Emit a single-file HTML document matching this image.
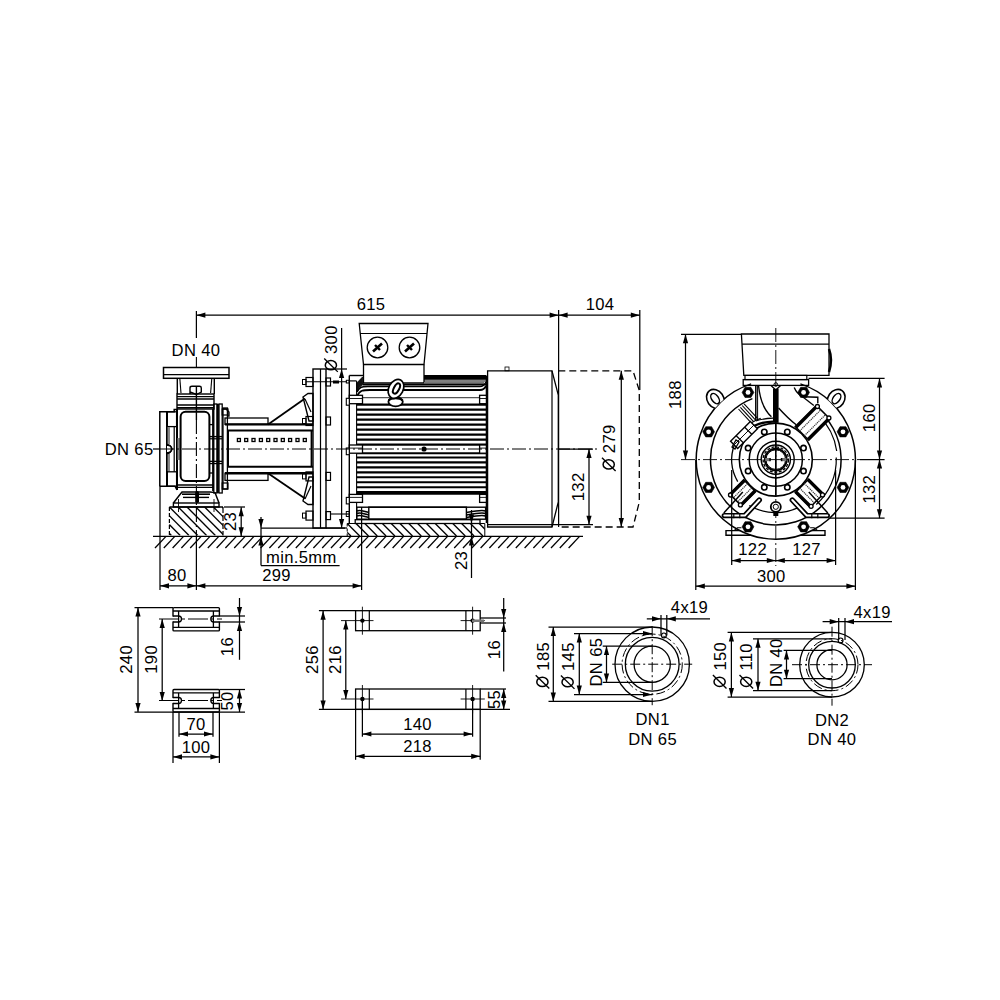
<!DOCTYPE html>
<html><head><meta charset="utf-8"><style>
html,body{margin:0;padding:0;background:#fff;width:1000px;height:1000px;overflow:hidden}
svg{display:block}
text{font-family:"Liberation Sans",sans-serif;fill:#000;stroke:none;font-size:16.6px;letter-spacing:0.35px}
</style></head><body>
<svg width="1000" height="1000" viewBox="0 0 1000 1000" stroke="#000" stroke-linecap="butt" fill="none">
<line x1="196.4" y1="311.0" x2="196.4" y2="338.0" stroke-width="1.25" />
<line x1="196.4" y1="315.2" x2="558.6" y2="315.2" stroke-width="1.25" />
<polygon points="196.4,315.2 205.4,312.6 205.4,317.8" fill="#000" stroke="none"/>
<polygon points="558.6,315.2 549.6,312.6 549.6,317.8" fill="#000" stroke="none"/>
<line x1="558.6" y1="315.2" x2="639.8" y2="315.2" stroke-width="1.25" />
<polygon points="558.6,315.2 567.6,312.6 567.6,317.8" fill="#000" stroke="none"/>
<polygon points="639.8,315.2 630.8,312.6 630.8,317.8" fill="#000" stroke="none"/>
<line x1="558.6" y1="310.0" x2="558.6" y2="527.0" stroke-width="1.25" />
<line x1="639.8" y1="310.0" x2="639.8" y2="390.0" stroke-width="1.25" />
<line x1="153.0" y1="449.0" x2="160.0" y2="449.0" stroke-width="1.25" />
<rect x="163.5" y="367.5" width="65.5" height="10.8" rx="0" stroke-width="1.5" fill="none" />
<line x1="177.3" y1="378.3" x2="177.3" y2="394.0" stroke-width="1.4" />
<line x1="214.3" y1="378.3" x2="214.3" y2="394.0" stroke-width="1.4" />
<line x1="179.8" y1="378.3" x2="181.0" y2="393.0" stroke-width="1.1" />
<line x1="211.8" y1="378.3" x2="210.6" y2="393.0" stroke-width="1.1" />
<line x1="163.4" y1="374.6" x2="229.0" y2="374.6" stroke-width="1.2" />
<path d="M190,394 L190,388 Q190,386.3 192,386.3 L199.5,386.3 Q201.3,386.3 201.3,388 L201.3,392 L196.4,394.5 L190,392" stroke-width="1.4" fill="none" />
<line x1="177.0" y1="396.6" x2="214.0" y2="396.6" stroke-width="1.3" />
<line x1="177.0" y1="399.0" x2="214.0" y2="399.0" stroke-width="1.3" />
<line x1="177.0" y1="405.0" x2="214.0" y2="405.0" stroke-width="1.3" />
<line x1="177.0" y1="407.8" x2="214.0" y2="407.8" stroke-width="1.6" />
<rect x="177.0" y="394.0" width="37.0" height="15.0" rx="0" stroke-width="1.4" fill="none" />
<polyline points="159.8,486.2 159.8,411.8 174.2,411.8 174.2,409.4 177.0,409.4" stroke-width="1.5" fill="none" />
<polyline points="159.8,486.2 175.0,486.2 177.0,490.0" stroke-width="1.5" fill="none" />
<line x1="167.0" y1="411.8" x2="167.0" y2="486.2" stroke-width="2.0" />
<rect x="167.0" y="411.8" width="9.6" height="14.8" rx="0" stroke-width="1.3" fill="none" />
<rect x="167.0" y="471.8" width="9.6" height="14.4" rx="0" stroke-width="1.3" fill="none" />
<line x1="174.2" y1="426.6" x2="174.2" y2="471.8" stroke-width="1.2" />
<rect x="167.5" y="427.0" width="2.5" height="17.0" rx="0" stroke-width="0" fill="#888" />
<rect x="167.5" y="454.0" width="2.5" height="17.0" rx="0" stroke-width="0" fill="#888" />
<path d="M167,444.5 A4.5,4.5 0 0 1 167,453.5" stroke-width="1.5" fill="#fff" />
<path d="M167,445.5 A5,5 0 0 1 172.2,449 A5,5 0 0 1 167,452.5" stroke-width="1.2" fill="none" />
<line x1="177.0" y1="409.0" x2="177.0" y2="490.0" stroke-width="2.0" />
<rect x="177.5" y="438.0" width="2.5" height="22.0" rx="0" stroke-width="0" fill="#888" />
<rect x="180.6" y="411.8" width="28.8" height="69.2" rx="5" stroke-width="2.0" fill="none" />
<line x1="213.0" y1="409.0" x2="213.0" y2="491.0" stroke-width="1.8" />
<line x1="209.4" y1="424.6" x2="213.0" y2="424.6" stroke-width="1.3" />
<line x1="209.4" y1="473.0" x2="213.0" y2="473.0" stroke-width="1.3" />
<rect x="213.8" y="404.0" width="3.2" height="89.0" rx="0" stroke-width="1.3" fill="none" />
<line x1="217.8" y1="404.0" x2="217.8" y2="493.0" stroke-width="2.2" />
<rect x="219.0" y="404.0" width="3.2" height="89.0" rx="0" stroke-width="1.3" fill="none" />
<rect x="223.0" y="408.0" width="4.4" height="81.0" rx="0" stroke-width="1.3" fill="none" />
<polyline points="222.2,409.0 226.0,409.0 229.0,412.0 229.0,416.0 227.4,416.0" stroke-width="1.3" fill="none" />
<line x1="210.0" y1="436.6" x2="222.0" y2="436.6" stroke-width="1.4" />
<line x1="210.0" y1="438.8" x2="222.0" y2="438.8" stroke-width="1.2" />
<line x1="210.0" y1="461.4" x2="222.0" y2="461.4" stroke-width="1.4" />
<line x1="210.0" y1="463.6" x2="222.0" y2="463.6" stroke-width="1.2" />
<rect x="222.2" y="409.0" width="5.8" height="6.0" rx="0" stroke-width="1.2" fill="none" />
<rect x="222.2" y="483.0" width="5.8" height="6.0" rx="0" stroke-width="1.2" fill="none" />
<line x1="177.0" y1="485.0" x2="213.0" y2="485.0" stroke-width="1.3" />
<line x1="177.0" y1="487.4" x2="213.0" y2="487.4" stroke-width="1.3" />
<line x1="182.0" y1="494.2" x2="210.0" y2="494.2" stroke-width="1.6" />
<line x1="183.0" y1="497.4" x2="209.0" y2="497.4" stroke-width="1.4" />
<polyline points="173.4,503.0 179.0,495.8 182.0,492.0 210.0,492.0 215.0,492.6 219.0,503.0" stroke-width="1.5" fill="none" />
<rect x="173.4" y="503.0" width="45.6" height="4.0" rx="0" stroke-width="1.4" fill="none" />
<rect x="195.2" y="491.0" width="3.8" height="12.0" rx="1.8" stroke-width="0" fill="#000" />
<line x1="178.5" y1="499.0" x2="178.5" y2="512.0" stroke-width="0.9" />
<line x1="214.0" y1="499.0" x2="214.0" y2="512.0" stroke-width="0.9" />
<rect x="225.0" y="418.0" width="43.0" height="6.4" rx="0" stroke-width="1.3" fill="none" />
<line x1="225.0" y1="424.4" x2="313.0" y2="424.4" stroke-width="2.4" />
<line x1="227.0" y1="430.5" x2="313.0" y2="430.5" stroke-width="2.0" />
<line x1="227.0" y1="466.8" x2="313.0" y2="466.8" stroke-width="2.0" />
<line x1="225.0" y1="473.2" x2="313.0" y2="473.2" stroke-width="2.4" />
<rect x="225.0" y="473.2" width="43.0" height="7.2" rx="0" stroke-width="1.3" fill="none" />
<line x1="228.0" y1="430.5" x2="228.0" y2="466.8" stroke-width="2.0" />
<line x1="311.5" y1="430.5" x2="311.5" y2="466.8" stroke-width="1.8" />
<line x1="268.0" y1="424.4" x2="305.0" y2="398.5" stroke-width="1.8" />
<line x1="268.0" y1="473.2" x2="305.0" y2="498.5" stroke-width="1.8" />
<path d="M303,397 L308,393.5 L313,393.5 L313,421 L309,421 Z" stroke-width="1.4" fill="none" />
<path d="M305,399 L311,412" stroke-width="1.2" fill="none" />
<path d="M303,501 L308,504.5 L313,504.5 L313,477 L309,477 Z" stroke-width="1.4" fill="none" />
<path d="M305,499 L311,486" stroke-width="1.2" fill="none" />
<rect x="237.4" y="438.5" width="3.0" height="3.0" rx="0" stroke-width="1.3" fill="none" />
<rect x="244.7" y="438.5" width="3.0" height="3.0" rx="0" stroke-width="1.3" fill="none" />
<rect x="252.0" y="438.5" width="3.0" height="3.0" rx="0" stroke-width="1.3" fill="none" />
<rect x="259.4" y="438.5" width="3.0" height="3.0" rx="0" stroke-width="1.3" fill="none" />
<rect x="266.7" y="438.5" width="3.0" height="3.0" rx="0" stroke-width="1.3" fill="none" />
<rect x="274.0" y="438.5" width="3.0" height="3.0" rx="0" stroke-width="1.3" fill="none" />
<rect x="281.3" y="438.5" width="3.0" height="3.0" rx="0" stroke-width="1.3" fill="none" />
<rect x="288.6" y="438.5" width="3.0" height="3.0" rx="0" stroke-width="1.3" fill="none" />
<rect x="296.0" y="438.5" width="3.0" height="3.0" rx="0" stroke-width="1.3" fill="none" />
<rect x="303.3" y="438.5" width="3.0" height="3.0" rx="0" stroke-width="1.3" fill="none" />
<rect x="313.0" y="369.0" width="13.0" height="159.0" rx="0" stroke-width="1.4" fill="none" />
<line x1="320.5" y1="369.0" x2="320.5" y2="528.0" stroke-width="1.2" />
<rect x="306.0" y="377.5" width="7.0" height="9.0" rx="0" stroke-width="1.2" fill="none" />
<rect x="302.5" y="379.5" width="3.5" height="5.0" rx="0" stroke-width="1.0" fill="none" />
<rect x="326.0" y="378.0" width="4.5" height="8.0" rx="0" stroke-width="1.2" fill="none" />
<rect x="306.0" y="416.5" width="7.0" height="9.0" rx="0" stroke-width="1.2" fill="none" />
<rect x="302.5" y="418.5" width="3.5" height="5.0" rx="0" stroke-width="1.0" fill="none" />
<rect x="326.0" y="417.0" width="4.5" height="8.0" rx="0" stroke-width="1.2" fill="none" />
<rect x="306.0" y="471.9" width="7.0" height="9.0" rx="0" stroke-width="1.2" fill="none" />
<rect x="302.5" y="473.9" width="3.5" height="5.0" rx="0" stroke-width="1.0" fill="none" />
<rect x="326.0" y="472.4" width="4.5" height="8.0" rx="0" stroke-width="1.2" fill="none" />
<rect x="306.0" y="511.1" width="7.0" height="9.0" rx="0" stroke-width="1.2" fill="none" />
<rect x="302.5" y="513.1" width="3.5" height="5.0" rx="0" stroke-width="1.0" fill="none" />
<rect x="326.0" y="511.6" width="4.5" height="8.0" rx="0" stroke-width="1.2" fill="none" />
<line x1="306.0" y1="381.8" x2="347.0" y2="381.8" stroke-width="1.1" />
<line x1="330.0" y1="514.0" x2="349.3" y2="514.0" stroke-width="1.1" />
<rect x="346.3" y="511.5" width="3.0" height="5.0" rx="0" stroke-width="1.0" fill="none" />
<rect x="333.0" y="380.5" width="6.0" height="3.0" rx="0" stroke-width="0" fill="#000" />
<line x1="341.6" y1="369.0" x2="341.6" y2="528.0" stroke-width="1.25" />
<polygon points="341.6,369.0 339.0,378.0 344.2,378.0" fill="#000" stroke="none"/>
<polygon points="341.6,528.0 339.0,519.0 344.2,519.0" fill="#000" stroke="none"/>
<line x1="341.6" y1="328.0" x2="341.6" y2="369.0" stroke-width="1.25" />
<line x1="326.0" y1="369.0" x2="347.0" y2="369.0" stroke-width="1.25" />
<line x1="326.0" y1="528.0" x2="347.0" y2="528.0" stroke-width="1.25" />
<polygon points="359.2,323.5 428.0,323.5 424.0,364.5 363.5,364.5" stroke-width="1.3" fill="none" />
<line x1="360.0" y1="333.5" x2="427.0" y2="333.5" stroke-width="1.2" />
<polyline points="363.5,364.5 363.5,383.0 424.0,383.0 424.0,364.5" stroke-width="1.3" fill="none" />
<circle cx="377.5" cy="347.5" r="10.3" stroke-width="1.3" fill="none" />
<line x1="373.0" y1="351.5" x2="382.0" y2="343.5" stroke-width="2.6" />
<line x1="375.0" y1="345.0" x2="380.0" y2="350.0" stroke-width="2.4" />
<circle cx="409.5" cy="347.5" r="10.3" stroke-width="1.3" fill="none" />
<line x1="405.0" y1="351.5" x2="414.0" y2="343.5" stroke-width="2.6" />
<line x1="407.0" y1="345.0" x2="412.0" y2="350.0" stroke-width="2.4" />
<line x1="349.3" y1="375.5" x2="349.3" y2="523.0" stroke-width="1.4" />
<line x1="356.6" y1="381.0" x2="356.6" y2="520.0" stroke-width="1.1" />
<line x1="349.3" y1="375.5" x2="363.0" y2="375.5" stroke-width="1.4" />
<line x1="349.3" y1="380.9" x2="356.6" y2="380.9" stroke-width="1.2" />
<rect x="346.3" y="380.3" width="3.0" height="2.7" rx="0" stroke-width="1.0" fill="none" />
<line x1="486.4" y1="375.5" x2="486.4" y2="523.0" stroke-width="1.4" />
<rect x="424.0" y="375.0" width="62.0" height="4.8" rx="0" stroke-width="0" fill="#000" />
<line x1="424.0" y1="381.0" x2="486.0" y2="381.0" stroke-width="1.0" />
<rect x="424.0" y="382.0" width="60.0" height="2.0" rx="0" stroke-width="0" fill="#777" />
<line x1="363.0" y1="384.6" x2="486.0" y2="384.6" stroke-width="1.6" />
<path d="M357,392 C360,386 362,386.5 370,386.5 L480,386.5 C483,386.5 485,384 486,382" stroke-width="1.6" fill="none" />
<path d="M357,396 C360,390 363,390 370,390 L480,390 C483,390 485,388 486,386" stroke-width="1.8" fill="none" />
<path d="M356.8,383 L362.5,377 L363,384.6 C360,386 358,389 357,392 Z" stroke-width="0.8" fill="#111" />
<line x1="363.0" y1="397.6" x2="480.0" y2="397.6" stroke-width="1.1" stroke="#555"/>
<line x1="356.8" y1="404.6" x2="486.4" y2="404.6" stroke-width="2.1" />
<line x1="356.8" y1="409.6" x2="486.4" y2="409.6" stroke-width="2.1" />
<line x1="356.8" y1="414.6" x2="486.4" y2="414.6" stroke-width="2.1" />
<line x1="356.8" y1="419.6" x2="486.4" y2="419.6" stroke-width="2.1" />
<line x1="356.8" y1="424.6" x2="486.4" y2="424.6" stroke-width="2.1" />
<line x1="356.8" y1="429.6" x2="486.4" y2="429.6" stroke-width="2.1" />
<line x1="356.8" y1="434.6" x2="486.4" y2="434.6" stroke-width="2.1" />
<line x1="356.8" y1="439.6" x2="486.4" y2="439.6" stroke-width="2.1" />
<line x1="356.8" y1="444.6" x2="486.4" y2="444.6" stroke-width="2.1" />
<line x1="356.8" y1="453.2" x2="486.4" y2="453.2" stroke-width="2.0" />
<line x1="356.8" y1="457.5" x2="486.4" y2="457.5" stroke-width="2.1" />
<line x1="356.8" y1="462.4" x2="486.4" y2="462.4" stroke-width="2.1" />
<line x1="356.8" y1="467.4" x2="486.4" y2="467.4" stroke-width="2.1" />
<line x1="356.8" y1="472.4" x2="486.4" y2="472.4" stroke-width="2.1" />
<line x1="356.8" y1="477.3" x2="486.4" y2="477.3" stroke-width="2.1" />
<line x1="356.8" y1="482.2" x2="486.4" y2="482.2" stroke-width="2.1" />
<line x1="356.8" y1="487.2" x2="486.4" y2="487.2" stroke-width="2.1" />
<line x1="356.8" y1="492.1" x2="486.4" y2="492.1" stroke-width="2.1" />
<line x1="356.8" y1="493.6" x2="486.4" y2="493.6" stroke-width="2.2" />
<rect x="349.3" y="395.3" width="13.2" height="8.4" rx="0" stroke-width="1.3" fill="#fff" />
<line x1="349.3" y1="398.5" x2="362.5" y2="398.5" stroke-width="0.9" />
<rect x="346.3" y="398.3" width="3.0" height="6.9" rx="0" stroke-width="1.1" fill="#fff" />
<rect x="479.6" y="395.3" width="6.8" height="8.4" rx="0" stroke-width="1.3" fill="#fff" />
<line x1="479.6" y1="398.5" x2="486.4" y2="398.5" stroke-width="0.9" />
<rect x="349.3" y="445.0" width="13.2" height="8.2" rx="0" stroke-width="1.3" fill="#fff" />
<line x1="349.3" y1="448.1" x2="362.5" y2="448.1" stroke-width="0.9" />
<rect x="346.3" y="448.0" width="3.0" height="6.7" rx="0" stroke-width="1.1" fill="#fff" />
<rect x="479.6" y="445.0" width="6.8" height="8.2" rx="0" stroke-width="1.3" fill="#fff" />
<line x1="479.6" y1="448.1" x2="486.4" y2="448.1" stroke-width="0.9" />
<rect x="349.3" y="494.4" width="13.2" height="8.0" rx="0" stroke-width="1.3" fill="#fff" />
<line x1="349.3" y1="497.4" x2="362.5" y2="497.4" stroke-width="0.9" />
<rect x="346.3" y="497.4" width="3.0" height="6.5" rx="0" stroke-width="1.1" fill="#fff" />
<rect x="479.6" y="494.4" width="6.8" height="8.0" rx="0" stroke-width="1.3" fill="#fff" />
<line x1="479.6" y1="497.4" x2="486.4" y2="497.4" stroke-width="0.9" />
<circle cx="424.0" cy="449.0" r="2.6" stroke-width="0" fill="#000" />
<line x1="160.0" y1="449.0" x2="600.0" y2="449.0" stroke-width="1.0" stroke-dasharray="14 3 2 3"/>
<ellipse cx="395.6" cy="401.8" rx="7.2" ry="4.6" stroke-width="1.8" fill="#fff"/>
<path d="M388.8,400.5 C391,397.5 400,397.5 402.4,400.5" stroke-width="2.2"/>
<g transform="translate(396,388.8) rotate(28)"><ellipse cx="0" cy="0" rx="7.2" ry="10" stroke-width="1.7" fill="#fff"/><ellipse cx="0.3" cy="-0.5" rx="2.6" ry="5.6" stroke-width="2.0"/></g>
<rect x="356.8" y="507.2" width="128.8" height="12.0" rx="0" stroke-width="1.4" fill="none" />
<rect x="368.8" y="507.2" width="97.6" height="12.0" rx="0" stroke-width="1.4" fill="none" />
<path d="M357,511 C360,509.5 364,511.5 368.8,512.5" stroke-width="1.5" fill="none" />
<path d="M485.6,511 C482,509.5 472,511.5 466.4,512.5" stroke-width="1.5" fill="none" />
<path d="M357,513.5 C360,512.0 364,514.0 368.8,515.0" stroke-width="1.5" fill="none" />
<path d="M485.6,513.5 C482,512.0 472,514.0 466.4,515.0" stroke-width="1.5" fill="none" />
<path d="M357,516 C360,514.5 364,516.5 368.8,517.5" stroke-width="1.5" fill="none" />
<path d="M485.6,516 C482,514.5 472,516.5 466.4,517.5" stroke-width="1.5" fill="none" />
<rect x="355.2" y="519.7" width="124.8" height="3.8" rx="0" stroke-width="1.3" fill="none" />
<polygon points="487.6,370.8 552.0,370.8 558.3,395.0 558.3,502.0 552.0,527.0 487.6,527.0" stroke-width="1.3" fill="none" />
<line x1="552.0" y1="370.8" x2="552.0" y2="527.0" stroke-width="1.2" />
<rect x="505.0" y="367.0" width="4.0" height="3.8" rx="0" stroke-width="0.8" fill="none" />
<path d="M558.3,370.8 L633,370.8 L639.3,390.6 L639.3,502 L633,527 L558.3,527" stroke-width="1.3" fill="none" stroke-dasharray="7 4"/>
<line x1="487.6" y1="524.7" x2="593.0" y2="524.7" stroke-width="1.25" />
<line x1="558.0" y1="449.0" x2="593.0" y2="449.0" stroke-width="1.25" />
<line x1="589.0" y1="449.0" x2="589.0" y2="524.7" stroke-width="1.25" />
<polygon points="589.0,449.0 586.4,458.0 591.6,458.0" fill="#000" stroke="none"/>
<polygon points="589.0,524.7 586.4,515.7 591.6,515.7" fill="#000" stroke="none"/>
<line x1="621.3" y1="370.8" x2="621.3" y2="527.0" stroke-width="1.25" />
<polygon points="621.3,370.8 618.7,379.8 623.9,379.8" fill="#000" stroke="none"/>
<polygon points="621.3,527.0 618.7,518.0 623.9,518.0" fill="#000" stroke="none"/>
<line x1="153.0" y1="536.4" x2="583.0" y2="536.4" stroke-width="1.3" />
<line x1="155.0" y1="548.0" x2="166.0" y2="536.4" stroke-width="1.3" />
<line x1="163.8" y1="548.0" x2="174.8" y2="536.4" stroke-width="1.3" />
<line x1="172.6" y1="548.0" x2="183.6" y2="536.4" stroke-width="1.3" />
<line x1="181.4" y1="548.0" x2="192.4" y2="536.4" stroke-width="1.3" />
<line x1="190.2" y1="548.0" x2="201.2" y2="536.4" stroke-width="1.3" />
<line x1="199.0" y1="548.0" x2="210.0" y2="536.4" stroke-width="1.3" />
<line x1="207.8" y1="548.0" x2="218.8" y2="536.4" stroke-width="1.3" />
<line x1="216.6" y1="548.0" x2="227.6" y2="536.4" stroke-width="1.3" />
<line x1="225.4" y1="548.0" x2="236.4" y2="536.4" stroke-width="1.3" />
<line x1="234.2" y1="548.0" x2="245.2" y2="536.4" stroke-width="1.3" />
<line x1="243.0" y1="548.0" x2="254.0" y2="536.4" stroke-width="1.3" />
<line x1="251.8" y1="548.0" x2="262.8" y2="536.4" stroke-width="1.3" />
<line x1="260.6" y1="548.0" x2="271.6" y2="536.4" stroke-width="1.3" />
<line x1="269.4" y1="548.0" x2="280.4" y2="536.4" stroke-width="1.3" />
<line x1="278.2" y1="548.0" x2="289.2" y2="536.4" stroke-width="1.3" />
<line x1="287.0" y1="548.0" x2="298.0" y2="536.4" stroke-width="1.3" />
<line x1="295.8" y1="548.0" x2="306.8" y2="536.4" stroke-width="1.3" />
<line x1="304.6" y1="548.0" x2="315.6" y2="536.4" stroke-width="1.3" />
<line x1="313.4" y1="548.0" x2="324.4" y2="536.4" stroke-width="1.3" />
<line x1="322.2" y1="548.0" x2="333.2" y2="536.4" stroke-width="1.3" />
<line x1="331.0" y1="548.0" x2="342.0" y2="536.4" stroke-width="1.3" />
<line x1="339.8" y1="548.0" x2="350.8" y2="536.4" stroke-width="1.3" />
<line x1="348.6" y1="548.0" x2="359.6" y2="536.4" stroke-width="1.3" />
<line x1="357.4" y1="548.0" x2="368.4" y2="536.4" stroke-width="1.3" />
<line x1="366.2" y1="548.0" x2="377.2" y2="536.4" stroke-width="1.3" />
<line x1="375.0" y1="548.0" x2="386.0" y2="536.4" stroke-width="1.3" />
<line x1="383.8" y1="548.0" x2="394.8" y2="536.4" stroke-width="1.3" />
<line x1="392.6" y1="548.0" x2="403.6" y2="536.4" stroke-width="1.3" />
<line x1="401.4" y1="548.0" x2="412.4" y2="536.4" stroke-width="1.3" />
<line x1="410.2" y1="548.0" x2="421.2" y2="536.4" stroke-width="1.3" />
<line x1="419.0" y1="548.0" x2="430.0" y2="536.4" stroke-width="1.3" />
<line x1="427.8" y1="548.0" x2="438.8" y2="536.4" stroke-width="1.3" />
<line x1="436.6" y1="548.0" x2="447.6" y2="536.4" stroke-width="1.3" />
<line x1="445.4" y1="548.0" x2="456.4" y2="536.4" stroke-width="1.3" />
<line x1="454.2" y1="548.0" x2="465.2" y2="536.4" stroke-width="1.3" />
<line x1="463.0" y1="548.0" x2="474.0" y2="536.4" stroke-width="1.3" />
<line x1="471.8" y1="548.0" x2="482.8" y2="536.4" stroke-width="1.3" />
<line x1="480.6" y1="548.0" x2="491.6" y2="536.4" stroke-width="1.3" />
<line x1="489.4" y1="548.0" x2="500.4" y2="536.4" stroke-width="1.3" />
<line x1="498.2" y1="548.0" x2="509.2" y2="536.4" stroke-width="1.3" />
<line x1="507.0" y1="548.0" x2="518.0" y2="536.4" stroke-width="1.3" />
<line x1="515.8" y1="548.0" x2="526.8" y2="536.4" stroke-width="1.3" />
<line x1="524.6" y1="548.0" x2="535.6" y2="536.4" stroke-width="1.3" />
<line x1="533.4" y1="548.0" x2="544.4" y2="536.4" stroke-width="1.3" />
<line x1="542.2" y1="548.0" x2="553.2" y2="536.4" stroke-width="1.3" />
<line x1="551.0" y1="548.0" x2="562.0" y2="536.4" stroke-width="1.3" />
<line x1="559.8" y1="548.0" x2="570.8" y2="536.4" stroke-width="1.3" />
<line x1="568.6" y1="548.0" x2="579.6" y2="536.4" stroke-width="1.3" />
<line x1="169.4" y1="507.0" x2="223.0" y2="507.0" stroke-width="1.3" />
<line x1="169.4" y1="507.0" x2="169.4" y2="535.4" stroke-width="1.2" stroke-dasharray="4 2"/>
<line x1="223.0" y1="507.0" x2="223.0" y2="535.4" stroke-width="1.2" stroke-dasharray="6 2"/>
<clipPath id="cpA"><rect x="169.4" y="507" width="53.6" height="28.4"/></clipPath>
<line x1="134.2" y1="507" x2="162.6" y2="535.4" stroke-width="1.35" clip-path="url(#cpA)"/>
<line x1="143.0" y1="507" x2="171.4" y2="535.4" stroke-width="1.35" clip-path="url(#cpA)"/>
<line x1="151.8" y1="507" x2="180.2" y2="535.4" stroke-width="1.35" clip-path="url(#cpA)"/>
<line x1="160.6" y1="507" x2="189.0" y2="535.4" stroke-width="1.35" clip-path="url(#cpA)"/>
<line x1="169.4" y1="507" x2="197.8" y2="535.4" stroke-width="1.35" clip-path="url(#cpA)"/>
<line x1="178.2" y1="507" x2="206.6" y2="535.4" stroke-width="1.35" clip-path="url(#cpA)"/>
<line x1="187.0" y1="507" x2="215.4" y2="535.4" stroke-width="1.35" clip-path="url(#cpA)"/>
<line x1="195.8" y1="507" x2="224.2" y2="535.4" stroke-width="1.35" clip-path="url(#cpA)"/>
<line x1="204.6" y1="507" x2="233.0" y2="535.4" stroke-width="1.35" clip-path="url(#cpA)"/>
<line x1="213.4" y1="507" x2="241.8" y2="535.4" stroke-width="1.35" clip-path="url(#cpA)"/>
<line x1="222.2" y1="507" x2="250.6" y2="535.4" stroke-width="1.35" clip-path="url(#cpA)"/>
<line x1="231.0" y1="507" x2="259.4" y2="535.4" stroke-width="1.35" clip-path="url(#cpA)"/>
<line x1="347.2" y1="523.5" x2="484.8" y2="523.5" stroke-width="1.2" />
<line x1="484.8" y1="523.5" x2="484.8" y2="536.0" stroke-width="1.0" />
<line x1="347.2" y1="523.5" x2="347.2" y2="536.0" stroke-width="1.0" stroke-dasharray="3 2"/>
<line x1="329.6" y1="523.5" x2="342.1" y2="536" stroke-width="1.35" clip-path="url(#cpB)"/>
<line x1="338.4" y1="523.5" x2="350.9" y2="536" stroke-width="1.35" clip-path="url(#cpB)"/>
<line x1="347.2" y1="523.5" x2="359.7" y2="536" stroke-width="1.35" clip-path="url(#cpB)"/>
<line x1="356.0" y1="523.5" x2="368.5" y2="536" stroke-width="1.35" clip-path="url(#cpB)"/>
<line x1="364.8" y1="523.5" x2="377.3" y2="536" stroke-width="1.35" clip-path="url(#cpB)"/>
<line x1="373.6" y1="523.5" x2="386.1" y2="536" stroke-width="1.35" clip-path="url(#cpB)"/>
<line x1="382.4" y1="523.5" x2="394.9" y2="536" stroke-width="1.35" clip-path="url(#cpB)"/>
<line x1="391.2" y1="523.5" x2="403.7" y2="536" stroke-width="1.35" clip-path="url(#cpB)"/>
<line x1="400.0" y1="523.5" x2="412.5" y2="536" stroke-width="1.35" clip-path="url(#cpB)"/>
<line x1="408.8" y1="523.5" x2="421.3" y2="536" stroke-width="1.35" clip-path="url(#cpB)"/>
<line x1="417.6" y1="523.5" x2="430.1" y2="536" stroke-width="1.35" clip-path="url(#cpB)"/>
<line x1="426.4" y1="523.5" x2="438.9" y2="536" stroke-width="1.35" clip-path="url(#cpB)"/>
<line x1="435.2" y1="523.5" x2="447.7" y2="536" stroke-width="1.35" clip-path="url(#cpB)"/>
<line x1="444.0" y1="523.5" x2="456.5" y2="536" stroke-width="1.35" clip-path="url(#cpB)"/>
<line x1="452.8" y1="523.5" x2="465.3" y2="536" stroke-width="1.35" clip-path="url(#cpB)"/>
<line x1="461.6" y1="523.5" x2="474.1" y2="536" stroke-width="1.35" clip-path="url(#cpB)"/>
<line x1="470.4" y1="523.5" x2="482.9" y2="536" stroke-width="1.35" clip-path="url(#cpB)"/>
<line x1="479.2" y1="523.5" x2="491.7" y2="536" stroke-width="1.35" clip-path="url(#cpB)"/>
<line x1="488.0" y1="523.5" x2="500.5" y2="536" stroke-width="1.35" clip-path="url(#cpB)"/>
<line x1="496.8" y1="523.5" x2="509.3" y2="536" stroke-width="1.35" clip-path="url(#cpB)"/>
<clipPath id="cpB"><rect x="347.2" y="523.5" width="137.6" height="12.5"/></clipPath>
<line x1="224.0" y1="507.0" x2="245.0" y2="507.0" stroke-width="1.25" />
<line x1="241.2" y1="507.2" x2="241.2" y2="536.2" stroke-width="1.25" />
<polygon points="241.2,507.2 238.6,516.2 243.8,516.2" fill="#000" stroke="none"/>
<polygon points="241.2,536.2 238.6,527.2 243.8,527.2" fill="#000" stroke="none"/>
<line x1="471.5" y1="510.0" x2="471.5" y2="578.0" stroke-width="1.25" />
<polygon points="471.5,523.5 468.9,514.5 474.1,514.5" fill="#000" stroke="none"/>
<polygon points="471.5,536.4 468.9,545.4 474.1,545.4" fill="#000" stroke="none"/>
<line x1="261.0" y1="517.0" x2="261.0" y2="565.6" stroke-width="1.25" />
<polygon points="261.0,528.0 258.4,519.0 263.6,519.0" fill="#000" stroke="none"/>
<polygon points="261.0,536.4 258.4,545.4 263.6,545.4" fill="#000" stroke="none"/>
<line x1="261.0" y1="528.0" x2="345.0" y2="528.0" stroke-width="1.25" />
<line x1="261.0" y1="565.6" x2="339.6" y2="565.6" stroke-width="1.25" />
<line x1="160.0" y1="486.0" x2="160.0" y2="590.0" stroke-width="1.25" />
<line x1="196.4" y1="357.0" x2="196.4" y2="368.0" stroke-width="1.1" />
<line x1="196.4" y1="386.0" x2="196.4" y2="420.0" stroke-width="1.4" />
<line x1="196.4" y1="420.0" x2="196.4" y2="536.0" stroke-width="1.1" stroke-dasharray="14 3 2 3"/>
<line x1="196.4" y1="536.0" x2="196.4" y2="590.0" stroke-width="1.25" />
<line x1="361.6" y1="507.0" x2="361.6" y2="590.0" stroke-width="1.25" />
<line x1="160.0" y1="585.8" x2="361.6" y2="585.8" stroke-width="1.25" />
<polygon points="160.0,585.8 169.0,583.2 169.0,588.4" fill="#000" stroke="none"/>
<polygon points="196.4,585.8 187.4,583.2 187.4,588.4" fill="#000" stroke="none"/>
<polygon points="196.4,585.8 205.4,583.2 205.4,588.4" fill="#000" stroke="none"/>
<polygon points="361.6,585.8 352.6,583.2 352.6,588.4" fill="#000" stroke="none"/>
<polygon points="741.4,334.0 829.0,334.0 829.0,375.4 743.8,375.4" stroke-width="1.3" fill="none" />
<line x1="742.0" y1="344.2" x2="829.0" y2="344.2" stroke-width="1.2" />
<path d="M829,349 Q833,360 829,372" stroke-width="2.5" fill="none" />
<rect x="745.0" y="375.4" width="61.8" height="4.2" rx="0" stroke-width="1.2" fill="none" />
<rect x="743.2" y="379.6" width="65.4" height="5.8" rx="0" stroke-width="1.3" fill="none" />
<line x1="681.0" y1="334.3" x2="741.4" y2="334.3" stroke-width="1.25" />
<line x1="685.5" y1="334.3" x2="685.5" y2="459.6" stroke-width="1.25" />
<polygon points="685.5,334.3 682.9,343.3 688.1,343.3" fill="#000" stroke="none"/>
<polygon points="685.5,459.6 682.9,450.6 688.1,450.6" fill="#000" stroke="none"/>
<line x1="808.6" y1="378.4" x2="884.6" y2="378.4" stroke-width="1.25" />
<line x1="860.0" y1="459.6" x2="884.6" y2="459.6" stroke-width="1.25" />
<line x1="830.0" y1="518.2" x2="884.6" y2="518.2" stroke-width="1.25" />
<line x1="879.5" y1="378.4" x2="879.5" y2="459.6" stroke-width="1.25" />
<polygon points="879.5,378.4 876.9,387.4 882.1,387.4" fill="#000" stroke="none"/>
<polygon points="879.5,459.6 876.9,450.6 882.1,450.6" fill="#000" stroke="none"/>
<line x1="879.5" y1="459.6" x2="879.5" y2="518.2" stroke-width="1.25" />
<polygon points="879.5,459.6 876.9,468.6 882.1,468.6" fill="#000" stroke="none"/>
<polygon points="879.5,518.2 876.9,509.2 882.1,509.2" fill="#000" stroke="none"/>
<line x1="681.0" y1="459.6" x2="860.0" y2="459.6" stroke-width="0.9" stroke-dasharray="14 3 2 3"/>
<line x1="775.8" y1="328.0" x2="775.8" y2="566.0" stroke-width="0.9" stroke-dasharray="14 3 2 3"/>
<path d="M800.40,383.90 A79.6,79.6 0 1 1 751.20,383.90" stroke-width="1.5" fill="none" />
<path d="M816.00,408.14 A65.3,65.3 0 1 1 752.40,398.64" stroke-width="1.5" fill="none" />
<path d="M836.26,457.49 A60.5,60.5 0 0 1 816.28,504.56" stroke-width="1.2" fill="none" />
<path d="M818.52,415.36 A61.5,61.5 0 0 1 836.70,451.04" stroke-width="1.2" fill="none" />
<path d="M737.69,481.60 A44,44 0 0 1 760.75,418.25" stroke-width="1.3" fill="none" />
<path d="M754.5,425.8 C760,423 766,421.8 773,421.6" stroke-width="2.4" fill="none" />
<path d="M800.68,506.40 A53,53 0 0 1 749.30,505.50" stroke-width="1.3" fill="none" />
<circle cx="775.8" cy="459.6" r="36.5" stroke-width="1.6" fill="none" />
<circle cx="775.8" cy="459.6" r="26.6" stroke-width="1.5" fill="none" />
<circle cx="775.8" cy="459.6" r="18.4" stroke-width="1.4" fill="none" />
<circle cx="775.8" cy="459.6" r="14.6" stroke-width="1.4" fill="none" />
<circle cx="775.8" cy="459.6" r="12.7" stroke-width="1.3" fill="none" stroke-dasharray="3 1.6"/>
<circle cx="775.8" cy="459.6" r="10.9" stroke-width="1.9" fill="none" />
<circle cx="775.8" cy="459.6" r="9.8" stroke-width="1.0" fill="none" />
<rect x="765.2" y="458.0" width="4.6" height="3.2" rx="0" stroke-width="0" fill="#777" />
<rect x="781.8" y="458.0" width="4.6" height="3.2" rx="0" stroke-width="0" fill="#777" />
<rect x="769.3" y="458.0" width="1.5" height="3.2" rx="0" stroke-width="0" fill="#000" />
<rect x="780.8" y="458.0" width="1.5" height="3.2" rx="0" stroke-width="0" fill="#000" />
<line x1="775.8" y1="423.6" x2="775.8" y2="495.6" stroke-width="1.6" />
<polygon points="848.9,487.4 845.9,492.5 840.0,492.5 837.1,487.4 840.0,482.3 845.9,482.3" stroke-width="0.6" fill="#000" />
<circle cx="843.0" cy="487.4" r="2.4" stroke-width="0" fill="#fff" />
<circle cx="803.5" cy="471.1" r="2.7" stroke-width="1.6" fill="none" />
<polygon points="809.5,526.8 806.6,531.9 800.7,531.9 797.7,526.8 800.7,521.7 806.6,521.7" stroke-width="0.6" fill="#000" />
<circle cx="803.6" cy="526.8" r="2.4" stroke-width="0" fill="#fff" />
<circle cx="787.3" cy="487.3" r="2.7" stroke-width="1.6" fill="none" />
<polygon points="753.9,526.8 750.9,531.9 745.0,531.9 742.1,526.8 745.0,521.7 750.9,521.7" stroke-width="0.6" fill="#000" />
<circle cx="748.0" cy="526.8" r="2.4" stroke-width="0" fill="#fff" />
<circle cx="764.3" cy="487.3" r="2.7" stroke-width="1.6" fill="none" />
<polygon points="714.5,487.4 711.6,492.5 705.7,492.5 702.7,487.4 705.7,482.3 711.6,482.3" stroke-width="0.6" fill="#000" />
<circle cx="708.6" cy="487.4" r="2.4" stroke-width="0" fill="#fff" />
<circle cx="748.1" cy="471.1" r="2.7" stroke-width="1.6" fill="none" />
<polygon points="714.5,431.8 711.6,436.9 705.7,436.9 702.7,431.8 705.7,426.7 711.6,426.7" stroke-width="0.6" fill="#000" />
<circle cx="708.6" cy="431.8" r="2.4" stroke-width="0" fill="#fff" />
<circle cx="748.1" cy="448.1" r="2.7" stroke-width="1.6" fill="none" />
<polygon points="753.9,392.4 750.9,397.5 745.0,397.5 742.1,392.4 745.0,387.3 750.9,387.3" stroke-width="0.6" fill="#000" />
<circle cx="748.0" cy="392.4" r="2.4" stroke-width="0" fill="#fff" />
<circle cx="764.3" cy="431.9" r="2.7" stroke-width="1.6" fill="none" />
<polygon points="809.5,392.4 806.6,397.5 800.7,397.5 797.7,392.4 800.7,387.3 806.6,387.3" stroke-width="0.6" fill="#000" />
<circle cx="803.6" cy="392.4" r="2.4" stroke-width="0" fill="#fff" />
<circle cx="787.3" cy="431.9" r="2.7" stroke-width="1.6" fill="none" />
<polygon points="848.9,431.8 845.9,436.9 840.0,436.9 837.1,431.8 840.0,426.7 845.9,426.7" stroke-width="0.6" fill="#000" />
<circle cx="843.0" cy="431.8" r="2.4" stroke-width="0" fill="#fff" />
<circle cx="803.5" cy="448.1" r="2.7" stroke-width="1.6" fill="none" />
<clipPath id="outside"><path clip-rule="evenodd" d="M0,0 H1000 V1000 H0 Z M855.4,459.6 A79.6,79.6 0 1 0 696.1999999999999,459.6 A79.6,79.6 0 1 0 855.4,459.6 Z"/></clipPath>
<g clip-path="url(#outside)"><g transform="translate(715.4,399) rotate(-35)"><ellipse cx="0" cy="0" rx="8.2" ry="10.2" stroke-width="1.6" fill="#fff"/><ellipse cx="0" cy="-0.5" rx="3.4" ry="5.8" stroke-width="1.5"/></g></g>
<g clip-path="url(#outside)"><g transform="translate(836.2,399) rotate(35)"><ellipse cx="0" cy="0" rx="8.2" ry="10.2" stroke-width="1.6" fill="#fff"/><ellipse cx="0" cy="-0.5" rx="3.4" ry="5.8" stroke-width="1.5"/></g></g>
<line x1="755.8" y1="386.0" x2="755.8" y2="420.0" stroke-width="1.5" />
<line x1="757.6" y1="386.0" x2="757.6" y2="420.0" stroke-width="1.0" />
<path d="M758.6,386 C760,400 764,410 771.4,416.8" stroke-width="1.4" fill="none" />
<path d="M756,421 C761,419.2 766,418.4 773,418.2" stroke-width="1.2" fill="none" />
<path d="M778.6,408 C784,414 790,420 796.2,424.8" stroke-width="1.4" fill="none" />
<path d="M794.2,387.6 C796,392 799,395 802.6,396.8 L817.8,397.2 L817.8,403.2" stroke-width="1.4" fill="none" />
<path d="M802.6,396.8 L813.8,405.6" stroke-width="1.3" fill="none" />
<rect x="773.0" y="388.8" width="5.6" height="34.0" rx="0" stroke-width="0" fill="#000" />
<path d="M771,385.5 L775.8,390 L780.6,385.5" stroke-width="1.3" fill="none" />
<circle cx="775.8" cy="384.5" r="1.8" stroke-width="1.0" fill="none" />
<polygon points="808.8,440.2 830.0,419.0 816.4,405.4 795.2,426.6" stroke-width="1.5" fill="#fff" />
<line x1="807.9" y1="439.4" x2="829.1" y2="418.2" stroke-width="3.0" />
<line x1="796.0" y1="427.5" x2="817.2" y2="406.3" stroke-width="3.0" />
<line x1="804.3" y1="435.8" x2="825.6" y2="414.6" stroke-width="1.2" stroke="#333" stroke-dasharray="1.2 0.8"/>
<line x1="799.6" y1="431.1" x2="820.8" y2="409.8" stroke-width="1.2" stroke="#333" stroke-dasharray="1.2 0.8"/>
<circle cx="828.9" cy="418.0" r="2.0" stroke-width="1.3" fill="#fff" />
<circle cx="817.4" cy="406.5" r="2.0" stroke-width="1.3" fill="#fff" />
<polygon points="795.2,492.6 810.0,507.4 823.6,493.8 808.8,479.0" stroke-width="1.5" fill="#fff" />
<line x1="796.0" y1="491.7" x2="810.9" y2="506.6" stroke-width="3.0" />
<line x1="807.9" y1="479.8" x2="822.8" y2="494.7" stroke-width="3.0" />
<line x1="799.6" y1="488.1" x2="814.4" y2="503.0" stroke-width="1.2" stroke="#333" stroke-dasharray="1.2 0.8"/>
<line x1="804.3" y1="483.4" x2="819.2" y2="498.2" stroke-width="1.2" stroke="#333" stroke-dasharray="1.2 0.8"/>
<circle cx="811.1" cy="506.3" r="2.0" stroke-width="1.3" fill="#fff" />
<circle cx="822.5" cy="494.9" r="2.0" stroke-width="1.3" fill="#fff" />
<polygon points="743.6,479.8 729.5,493.9 741.5,505.9 755.6,491.8" stroke-width="1.5" fill="#fff" />
<line x1="744.5" y1="480.6" x2="730.3" y2="494.7" stroke-width="3.0" />
<line x1="754.8" y1="490.9" x2="740.7" y2="505.1" stroke-width="3.0" />
<line x1="747.5" y1="483.7" x2="733.4" y2="497.8" stroke-width="1.2" stroke="#333" stroke-dasharray="1.2 0.8"/>
<line x1="751.7" y1="487.9" x2="737.6" y2="502.0" stroke-width="1.2" stroke="#333" stroke-dasharray="1.2 0.8"/>
<circle cx="730.5" cy="495.0" r="2.0" stroke-width="1.3" fill="#fff" />
<circle cx="740.4" cy="504.9" r="2.0" stroke-width="1.3" fill="#fff" />
<line x1="744.1" y1="403.8" x2="757.3" y2="418.2" stroke-width="1.1" />
<line x1="742.2" y1="405.5" x2="755.4" y2="419.9" stroke-width="1.1" />
<line x1="740.4" y1="407.3" x2="753.6" y2="421.7" stroke-width="1.1" />
<line x1="738.5" y1="409.0" x2="751.7" y2="423.4" stroke-width="1.1" />
<g transform="translate(744,435) rotate(-45)"><rect x="-14" y="-5" width="28" height="10" stroke-width="1.4" fill="#fff"/><line x1="-6" y1="-5" x2="-6" y2="5" stroke-width="1.2"/><line x1="6" y1="-5" x2="6" y2="5" stroke-width="1.2"/><line x1="-14" y1="0" x2="14" y2="0" stroke-width="0.9"/></g>
<path d="M732,447 L736,440 L739,442 L735,449 Z" stroke-width="1.3" fill="none" />
<path d="M759.3,500 L744.8,515.6 L724.3,515.6" stroke-width="5.4" fill="none" stroke-linecap="round" stroke-linejoin="round"/>
<path d="M759.3,500 L744.8,515.6 L724.3,515.6" stroke-width="2.0" fill="none" stroke="#fff" stroke-linecap="round" stroke-linejoin="round"/>
<path d="M723.8,513 L742.8,492" stroke-width="1.5" fill="none" />
<line x1="739.8" y1="513.0" x2="739.8" y2="518.2" stroke-width="1.2" />
<line x1="733.8" y1="513.0" x2="733.8" y2="518.2" stroke-width="1.2" />
<path d="M792.3,500 L806.8,515.6 L827.3,515.6" stroke-width="5.4" fill="none" stroke-linecap="round" stroke-linejoin="round"/>
<path d="M792.3,500 L806.8,515.6 L827.3,515.6" stroke-width="2.0" fill="none" stroke="#fff" stroke-linecap="round" stroke-linejoin="round"/>
<path d="M827.8,513 L808.8,492" stroke-width="1.5" fill="none" />
<line x1="811.8" y1="513.0" x2="811.8" y2="518.2" stroke-width="1.2" />
<line x1="817.8" y1="513.0" x2="817.8" y2="518.2" stroke-width="1.2" />
<circle cx="775.8" cy="506.8" r="5.0" stroke-width="1.8" fill="#fff" />
<circle cx="775.8" cy="506.8" r="2.6" stroke-width="1.0" fill="none" />
<rect x="773.3" y="511.5" width="5.0" height="4.5" rx="0" stroke-width="0" fill="#000" />
<polyline points="739.8,530.6 726.0,530.6 726.0,535.2 750.9,535.2" stroke-width="1.4" fill="none" />
<polyline points="811.8,530.6 825.0,530.6 825.0,535.2 800.7,535.2" stroke-width="1.4" fill="none" />
<polyline points="734.0,530.6 737.5,527.8 741.5,527.8" stroke-width="1.1" fill="none" />
<polyline points="817.6,530.6 814.1,527.8 810.1,527.8" stroke-width="1.1" fill="none" />
<line x1="731.7" y1="470.0" x2="731.7" y2="565.0" stroke-width="1.25" />
<line x1="835.6" y1="470.0" x2="835.6" y2="565.0" stroke-width="1.25" />
<line x1="695.8" y1="460.0" x2="695.8" y2="590.0" stroke-width="1.25" />
<line x1="855.4" y1="460.0" x2="855.4" y2="590.0" stroke-width="1.25" />
<line x1="731.7" y1="560.5" x2="835.6" y2="560.5" stroke-width="1.25" />
<polygon points="731.7,560.5 740.7,557.9 740.7,563.1" fill="#000" stroke="none"/>
<polygon points="775.8,560.5 766.8,557.9 766.8,563.1" fill="#000" stroke="none"/>
<polygon points="775.8,560.5 784.8,557.9 784.8,563.1" fill="#000" stroke="none"/>
<polygon points="835.6,560.5 826.6,557.9 826.6,563.1" fill="#000" stroke="none"/>
<line x1="695.8" y1="586.2" x2="855.4" y2="586.2" stroke-width="1.25" />
<polygon points="695.8,586.2 704.8,583.6 704.8,588.8" fill="#000" stroke="none"/>
<polygon points="855.4,586.2 846.4,583.6 846.4,588.8" fill="#000" stroke="none"/>
<rect x="173.0" y="607.6" width="46.4" height="23.3" rx="1" stroke-width="1.4" fill="none" />
<line x1="173.0" y1="611.0" x2="219.4" y2="611.0" stroke-width="1.3" />
<line x1="173.0" y1="627.4" x2="219.4" y2="627.4" stroke-width="1.3" />
<line x1="178.6" y1="611.0" x2="178.6" y2="627.4" stroke-width="1.3" />
<line x1="213.4" y1="611.0" x2="213.4" y2="627.4" stroke-width="1.3" />
<rect x="171.5" y="616.6" width="6.5" height="4.8" rx="0" stroke-width="0" fill="#fff" stroke="none"/>
<rect x="214.0" y="616.6" width="7.0" height="4.8" rx="0" stroke-width="0" fill="#fff" stroke="none"/>
<path d="M173,616 L178.5,616 A3,3 0 0 1 178.5,622 L173,622" stroke-width="1.3" fill="none" />
<path d="M219.4,616 L213.8,616 A3,3 0 0 0 213.8,622 L219.4,622" stroke-width="1.3" fill="none" />
<line x1="159.0" y1="619.0" x2="222.0" y2="619.0" stroke-width="1.0" stroke-dasharray="20 3 3 3"/>
<rect x="173.0" y="689.5" width="46.4" height="22.5" rx="1" stroke-width="1.4" fill="none" />
<line x1="173.0" y1="692.9" x2="219.4" y2="692.9" stroke-width="1.3" />
<line x1="173.0" y1="708.5" x2="219.4" y2="708.5" stroke-width="1.3" />
<line x1="178.6" y1="692.9" x2="178.6" y2="708.5" stroke-width="1.3" />
<line x1="213.4" y1="692.9" x2="213.4" y2="708.5" stroke-width="1.3" />
<rect x="171.5" y="698.1" width="6.5" height="4.8" rx="0" stroke-width="0" fill="#fff" stroke="none"/>
<rect x="214.0" y="698.1" width="7.0" height="4.8" rx="0" stroke-width="0" fill="#fff" stroke="none"/>
<path d="M173,697.5 L178.5,697.5 A3,3 0 0 1 178.5,703.5 L173,703.5" stroke-width="1.3" fill="none" />
<path d="M219.4,697.5 L213.8,697.5 A3,3 0 0 0 213.8,703.5 L219.4,703.5" stroke-width="1.3" fill="none" />
<line x1="159.0" y1="700.5" x2="222.0" y2="700.5" stroke-width="1.0" stroke-dasharray="20 3 3 3"/>
<line x1="134.5" y1="607.6" x2="173.0" y2="607.6" stroke-width="1.25" />
<line x1="134.5" y1="712.0" x2="245.0" y2="712.0" stroke-width="1.25" />
<line x1="138.0" y1="607.6" x2="138.0" y2="712.0" stroke-width="1.25" />
<polygon points="138.0,607.6 135.4,616.6 140.6,616.6" fill="#000" stroke="none"/>
<polygon points="138.0,712.0 135.4,703.0 140.6,703.0" fill="#000" stroke="none"/>
<line x1="162.2" y1="619.0" x2="162.2" y2="700.9" stroke-width="1.25" />
<polygon points="162.2,619.0 159.6,628.0 164.8,628.0" fill="#000" stroke="none"/>
<polygon points="162.2,700.9 159.6,691.9 164.8,691.9" fill="#000" stroke="none"/>
<line x1="219.4" y1="616.0" x2="245.0" y2="616.0" stroke-width="1.25" />
<line x1="219.4" y1="622.0" x2="245.0" y2="622.0" stroke-width="1.25" />
<line x1="239.5" y1="598.0" x2="239.5" y2="659.8" stroke-width="1.25" />
<polygon points="239.5,616.0 236.9,607.0 242.1,607.0" fill="#000" stroke="none"/>
<polygon points="239.5,622.0 236.9,631.0 242.1,631.0" fill="#000" stroke="none"/>
<line x1="219.4" y1="689.5" x2="245.0" y2="689.5" stroke-width="1.25" />
<line x1="239.5" y1="689.5" x2="239.5" y2="712.0" stroke-width="1.25" />
<polygon points="239.5,689.5 236.9,698.5 242.1,698.5" fill="#000" stroke="none"/>
<polygon points="239.5,712.0 236.9,703.0 242.1,703.0" fill="#000" stroke="none"/>
<line x1="179.0" y1="712.0" x2="179.0" y2="736.8" stroke-width="1.25" />
<line x1="213.0" y1="712.0" x2="213.0" y2="736.8" stroke-width="1.25" />
<line x1="179.0" y1="734.0" x2="213.0" y2="734.0" stroke-width="1.25" />
<polygon points="179.0,734.0 188.0,731.4 188.0,736.6" fill="#000" stroke="none"/>
<polygon points="213.0,734.0 204.0,731.4 204.0,736.6" fill="#000" stroke="none"/>
<line x1="173.0" y1="712.0" x2="173.0" y2="763.0" stroke-width="1.25" />
<line x1="219.4" y1="712.0" x2="219.4" y2="763.0" stroke-width="1.25" />
<line x1="173.0" y1="756.9" x2="219.4" y2="756.9" stroke-width="1.25" />
<polygon points="173.0,756.9 182.0,754.3 182.0,759.5" fill="#000" stroke="none"/>
<polygon points="219.4,756.9 210.4,754.3 210.4,759.5" fill="#000" stroke="none"/>
<rect x="355.6" y="610.7" width="124.6" height="20.0" rx="0" stroke-width="1.3" fill="none" />
<line x1="369.3" y1="610.7" x2="369.3" y2="630.7" stroke-width="1.2" />
<line x1="465.9" y1="610.7" x2="465.9" y2="630.7" stroke-width="1.2" />
<circle cx="362.4" cy="620.6" r="2.2" stroke-width="0" fill="#000" />
<line x1="362.4" y1="606.7" x2="362.4" y2="634.7" stroke-width="0.9" />
<circle cx="472.6" cy="620.6" r="2.2" stroke-width="0" fill="#000" />
<line x1="472.6" y1="606.7" x2="472.6" y2="634.7" stroke-width="0.9" />
<line x1="341.0" y1="620.6" x2="373.5" y2="620.6" stroke-width="0.9" />
<line x1="460.6" y1="620.6" x2="484.8" y2="620.6" stroke-width="0.9" />
<rect x="355.6" y="689.0" width="124.6" height="20.4" rx="0" stroke-width="1.3" fill="none" />
<line x1="369.3" y1="689.0" x2="369.3" y2="709.4" stroke-width="1.2" />
<line x1="465.9" y1="689.0" x2="465.9" y2="709.4" stroke-width="1.2" />
<circle cx="362.4" cy="699.0" r="2.2" stroke-width="0" fill="#000" />
<line x1="362.4" y1="685.0" x2="362.4" y2="713.4" stroke-width="0.9" />
<circle cx="472.6" cy="699.0" r="2.2" stroke-width="0" fill="#000" />
<line x1="472.6" y1="685.0" x2="472.6" y2="713.4" stroke-width="0.9" />
<line x1="341.0" y1="699.0" x2="373.5" y2="699.0" stroke-width="0.9" />
<line x1="460.6" y1="699.0" x2="484.8" y2="699.0" stroke-width="0.9" />
<rect x="472.0" y="619.5" width="12.0" height="2.5" rx="0" stroke-width="0" fill="#777" />
<line x1="318.9" y1="610.7" x2="355.6" y2="610.7" stroke-width="1.25" />
<line x1="318.9" y1="709.4" x2="510.0" y2="709.4" stroke-width="1.25" />
<line x1="323.1" y1="610.7" x2="323.1" y2="709.4" stroke-width="1.25" />
<polygon points="323.1,610.7 320.5,619.7 325.7,619.7" fill="#000" stroke="none"/>
<polygon points="323.1,709.4 320.5,700.4 325.7,700.4" fill="#000" stroke="none"/>
<line x1="345.8" y1="620.6" x2="345.8" y2="699.0" stroke-width="1.25" />
<polygon points="345.8,620.6 343.2,629.6 348.4,629.6" fill="#000" stroke="none"/>
<polygon points="345.8,699.0 343.2,690.0 348.4,690.0" fill="#000" stroke="none"/>
<line x1="480.2" y1="618.0" x2="506.0" y2="618.0" stroke-width="1.25" />
<line x1="480.2" y1="623.0" x2="506.0" y2="623.0" stroke-width="1.25" />
<line x1="503.7" y1="598.0" x2="503.7" y2="671.6" stroke-width="1.25" />
<polygon points="503.7,618.0 501.1,609.0 506.3,609.0" fill="#000" stroke="none"/>
<polygon points="503.7,623.0 501.1,632.0 506.3,632.0" fill="#000" stroke="none"/>
<line x1="480.2" y1="689.0" x2="506.0" y2="689.0" stroke-width="1.25" />
<line x1="503.7" y1="689.0" x2="503.7" y2="709.4" stroke-width="1.25" />
<polygon points="503.7,689.0 501.1,698.0 506.3,698.0" fill="#000" stroke="none"/>
<polygon points="503.7,709.4 501.1,700.4 506.3,700.4" fill="#000" stroke="none"/>
<line x1="362.4" y1="699.0" x2="362.4" y2="736.7" stroke-width="1.25" />
<line x1="472.6" y1="699.0" x2="472.6" y2="736.7" stroke-width="1.25" />
<line x1="362.4" y1="734.0" x2="472.6" y2="734.0" stroke-width="1.25" />
<polygon points="362.4,734.0 371.4,731.4 371.4,736.6" fill="#000" stroke="none"/>
<polygon points="472.6,734.0 463.6,731.4 463.6,736.6" fill="#000" stroke="none"/>
<line x1="355.6" y1="709.4" x2="355.6" y2="759.8" stroke-width="1.25" />
<line x1="480.2" y1="709.4" x2="480.2" y2="759.8" stroke-width="1.25" />
<line x1="355.6" y1="756.3" x2="480.2" y2="756.3" stroke-width="1.25" />
<polygon points="355.6,756.3 364.6,753.7 364.6,758.9" fill="#000" stroke="none"/>
<polygon points="480.2,756.3 471.2,753.7 471.2,758.9" fill="#000" stroke="none"/>
<circle cx="652.2" cy="664.2" r="37.2" stroke-width="1.3" fill="none" />
<circle cx="652.2" cy="664.2" r="30.1" stroke-width="1.0" fill="none" stroke-dasharray="9 3 2 3"/>
<circle cx="652.2" cy="664.2" r="26.9" stroke-width="1.3" fill="none" />
<circle cx="652.2" cy="664.2" r="18.1" stroke-width="1.3" fill="none" />
<circle cx="663.9" cy="635.4" r="2.4" stroke-width="1.2" fill="none" />
<line x1="612.2" y1="664.2" x2="692.2" y2="664.2" stroke-width="1.0" stroke-dasharray="10 3 2 3"/>
<line x1="652.2" y1="626.2" x2="652.2" y2="705.2" stroke-width="1.0" stroke-dasharray="10 3 2 3"/>
<line x1="548.5" y1="627.0" x2="652.0" y2="627.0" stroke-width="1.25" />
<line x1="548.5" y1="701.4" x2="652.0" y2="701.4" stroke-width="1.25" />
<line x1="553.3" y1="627.0" x2="553.3" y2="701.4" stroke-width="1.25" />
<polygon points="553.3,627.0 550.7,636.0 555.9,636.0" fill="#000" stroke="none"/>
<polygon points="553.3,701.4 550.7,692.4 555.9,692.4" fill="#000" stroke="none"/>
<line x1="574.0" y1="633.5" x2="652.0" y2="633.5" stroke-width="1.25" />
<line x1="574.0" y1="694.5" x2="652.0" y2="694.5" stroke-width="1.25" />
<polygon points="652.0,633.5 643.0,630.9 643.0,636.1" fill="#000" stroke="none"/>
<polygon points="652.0,694.5 643.0,691.9 643.0,697.1" fill="#000" stroke="none"/>
<line x1="579.3" y1="633.5" x2="579.3" y2="694.5" stroke-width="1.25" />
<polygon points="579.3,633.5 576.7,642.5 581.9,642.5" fill="#000" stroke="none"/>
<polygon points="579.3,694.5 576.7,685.5 581.9,685.5" fill="#000" stroke="none"/>
<line x1="602.7" y1="646.0" x2="652.0" y2="646.0" stroke-width="1.25" />
<line x1="602.7" y1="682.4" x2="652.0" y2="682.4" stroke-width="1.25" />
<line x1="606.5" y1="646.0" x2="606.5" y2="682.4" stroke-width="1.25" />
<polygon points="606.5,646.0 603.9,655.0 609.1,655.0" fill="#000" stroke="none"/>
<polygon points="606.5,682.4 603.9,673.4 609.1,673.4" fill="#000" stroke="none"/>
<line x1="646.8" y1="618.8" x2="710.0" y2="618.8" stroke-width="1.25" />
<polygon points="661.0,618.8 652.0,616.2 652.0,621.4" fill="#000" stroke="none"/>
<polygon points="666.8,618.8 675.8,616.2 675.8,621.4" fill="#000" stroke="none"/>
<line x1="661.0" y1="615.0" x2="661.0" y2="635.4" stroke-width="1.25" />
<line x1="666.8" y1="615.0" x2="666.8" y2="635.4" stroke-width="1.25" />
<circle cx="832.0" cy="664.7" r="32.3" stroke-width="1.3" fill="none" />
<circle cx="832.0" cy="664.7" r="26.0" stroke-width="1.0" fill="none" stroke-dasharray="9 3 2 3"/>
<circle cx="832.0" cy="664.7" r="23.3" stroke-width="1.3" fill="none" />
<circle cx="832.0" cy="664.7" r="15.1" stroke-width="1.3" fill="none" />
<circle cx="840.6" cy="640.4" r="2.4" stroke-width="1.2" fill="none" />
<line x1="792.0" y1="664.7" x2="872.0" y2="664.7" stroke-width="1.0" stroke-dasharray="10 3 2 3"/>
<line x1="832.0" y1="626.7" x2="832.0" y2="705.7" stroke-width="1.0" stroke-dasharray="10 3 2 3"/>
<line x1="727.6" y1="632.4" x2="832.0" y2="632.4" stroke-width="1.25" />
<line x1="727.6" y1="697.0" x2="832.0" y2="697.0" stroke-width="1.25" />
<line x1="731.4" y1="632.4" x2="731.4" y2="697.0" stroke-width="1.25" />
<polygon points="731.4,632.4 728.8,641.4 734.0,641.4" fill="#000" stroke="none"/>
<polygon points="731.4,697.0 728.8,688.0 734.0,688.0" fill="#000" stroke="none"/>
<line x1="753.0" y1="638.8" x2="832.0" y2="638.8" stroke-width="1.25" />
<line x1="753.0" y1="690.7" x2="832.0" y2="690.7" stroke-width="1.25" />
<line x1="758.0" y1="638.8" x2="758.0" y2="690.7" stroke-width="1.25" />
<polygon points="758.0,638.8 755.4,647.8 760.6,647.8" fill="#000" stroke="none"/>
<polygon points="758.0,690.7 755.4,681.7 760.6,681.7" fill="#000" stroke="none"/>
<line x1="783.6" y1="650.4" x2="832.0" y2="650.4" stroke-width="1.25" />
<line x1="783.6" y1="678.7" x2="832.0" y2="678.7" stroke-width="1.25" />
<line x1="786.5" y1="650.4" x2="786.5" y2="678.7" stroke-width="1.25" />
<polygon points="786.5,650.4 783.9,659.4 789.1,659.4" fill="#000" stroke="none"/>
<polygon points="786.5,678.7 783.9,669.7 789.1,669.7" fill="#000" stroke="none"/>
<line x1="822.6" y1="621.7" x2="892.0" y2="621.7" stroke-width="1.25" />
<polygon points="838.7,621.7 829.7,619.1 829.7,624.3" fill="#000" stroke="none"/>
<polygon points="845.0,621.7 854.0,619.1 854.0,624.3" fill="#000" stroke="none"/>
<line x1="838.7" y1="618.0" x2="838.7" y2="640.0" stroke-width="1.25" />
<line x1="845.0" y1="618.0" x2="845.0" y2="640.0" stroke-width="1.25" />
<text x="371.0" y="310.0" text-anchor="middle">615</text>
<text x="600.0" y="310.0" text-anchor="middle">104</text>
<text x="196.0" y="356.2" text-anchor="middle">DN 40</text>
<text x="129.1" y="455.0" text-anchor="middle">DN 65</text>
<text x="266.0" y="563.0" text-anchor="start">min.5mm</text>
<text x="177.0" y="581.2" text-anchor="middle">80</text>
<text x="276.5" y="581.2" text-anchor="middle">299</text>
<text x="752.6" y="554.6" text-anchor="middle">122</text>
<text x="806.5" y="554.6" text-anchor="middle">127</text>
<text x="771.3" y="581.6" text-anchor="middle">300</text>
<text x="196.0" y="730.2" text-anchor="middle">70</text>
<text x="196.0" y="752.5" text-anchor="middle">100</text>
<text x="417.5" y="729.6" text-anchor="middle">140</text>
<text x="417.5" y="752.4" text-anchor="middle">218</text>
<text x="689.5" y="613.0" text-anchor="middle">4x19</text>
<text x="853.5" y="618.1" text-anchor="start">4x19</text>
<text x="652.6" y="724.6" text-anchor="middle">DN1</text>
<text x="652.6" y="744.6" text-anchor="middle">DN 65</text>
<text x="832.0" y="725.6" text-anchor="middle">DN2</text>
<text x="832.0" y="744.6" text-anchor="middle">DN 40</text>
<g transform="translate(337.0,348.0) rotate(-90)"><ellipse cx="-17.19" cy="-6.1" rx="4.6" ry="5.6" stroke-width="1.5" fill="none"/><line x1="-23.89" y1="0.8" x2="-10.49" y2="-12.8" stroke-width="1.35"/><text x="-5.99" y="0" text-anchor="start">300</text></g>
<g transform="translate(614.8,447.2) rotate(-90)"><ellipse cx="-17.19" cy="-6.1" rx="4.6" ry="5.6" stroke-width="1.5" fill="none"/><line x1="-23.89" y1="0.8" x2="-10.49" y2="-12.8" stroke-width="1.35"/><text x="-5.99" y="0" text-anchor="start">279</text></g>
<g transform="translate(583.5,486.9) rotate(-90)"><text x="0" y="0" text-anchor="middle">132</text></g>
<g transform="translate(236.3,521.5) rotate(-90)"><text x="0" y="0" text-anchor="middle">23</text></g>
<g transform="translate(467.0,560.5) rotate(-90)"><text x="0" y="0" text-anchor="middle">23</text></g>
<g transform="translate(680.7,394.6) rotate(-90)"><text x="0" y="0" text-anchor="middle">188</text></g>
<g transform="translate(875.3,417.8) rotate(-90)"><text x="0" y="0" text-anchor="middle">160</text></g>
<g transform="translate(875.3,489.2) rotate(-90)"><text x="0" y="0" text-anchor="middle">132</text></g>
<g transform="translate(131.9,659.4) rotate(-90)"><text x="0" y="0" text-anchor="middle">240</text></g>
<g transform="translate(157.3,659.4) rotate(-90)"><text x="0" y="0" text-anchor="middle">190</text></g>
<g transform="translate(233.4,646.6) rotate(-90)"><text x="0" y="0" text-anchor="middle">16</text></g>
<g transform="translate(233.4,700.9) rotate(-90)"><text x="0" y="0" text-anchor="middle">50</text></g>
<g transform="translate(317.8,659.5) rotate(-90)"><text x="0" y="0" text-anchor="middle">256</text></g>
<g transform="translate(341.0,659.5) rotate(-90)"><text x="0" y="0" text-anchor="middle">216</text></g>
<g transform="translate(499.5,649.6) rotate(-90)"><text x="0" y="0" text-anchor="middle">16</text></g>
<g transform="translate(499.5,699.4) rotate(-90)"><text x="0" y="0" text-anchor="middle">55</text></g>
<g transform="translate(548.5,664.7) rotate(-90)"><ellipse cx="-17.19" cy="-6.1" rx="4.6" ry="5.6" stroke-width="1.5" fill="none"/><line x1="-23.89" y1="0.8" x2="-10.49" y2="-12.8" stroke-width="1.35"/><text x="-5.99" y="0" text-anchor="start">185</text></g>
<g transform="translate(573.7,665.0) rotate(-90)"><ellipse cx="-17.19" cy="-6.1" rx="4.6" ry="5.6" stroke-width="1.5" fill="none"/><line x1="-23.89" y1="0.8" x2="-10.49" y2="-12.8" stroke-width="1.35"/><text x="-5.99" y="0" text-anchor="start">145</text></g>
<g transform="translate(602.0,662.1) rotate(-90)"><text x="0" y="0" text-anchor="middle">DN 65</text></g>
<g transform="translate(725.7,664.6) rotate(-90)"><ellipse cx="-17.19" cy="-6.1" rx="4.6" ry="5.6" stroke-width="1.5" fill="none"/><line x1="-23.89" y1="0.8" x2="-10.49" y2="-12.8" stroke-width="1.35"/><text x="-5.99" y="0" text-anchor="start">150</text></g>
<g transform="translate(752.3,664.6) rotate(-90)"><ellipse cx="-17.19" cy="-6.1" rx="4.6" ry="5.6" stroke-width="1.5" fill="none"/><line x1="-23.89" y1="0.8" x2="-10.49" y2="-12.8" stroke-width="1.35"/><text x="-5.99" y="0" text-anchor="start">110</text></g>
<g transform="translate(781.7,662.7) rotate(-90)"><text x="0" y="0" text-anchor="middle">DN 40</text></g>
</svg></body></html>
